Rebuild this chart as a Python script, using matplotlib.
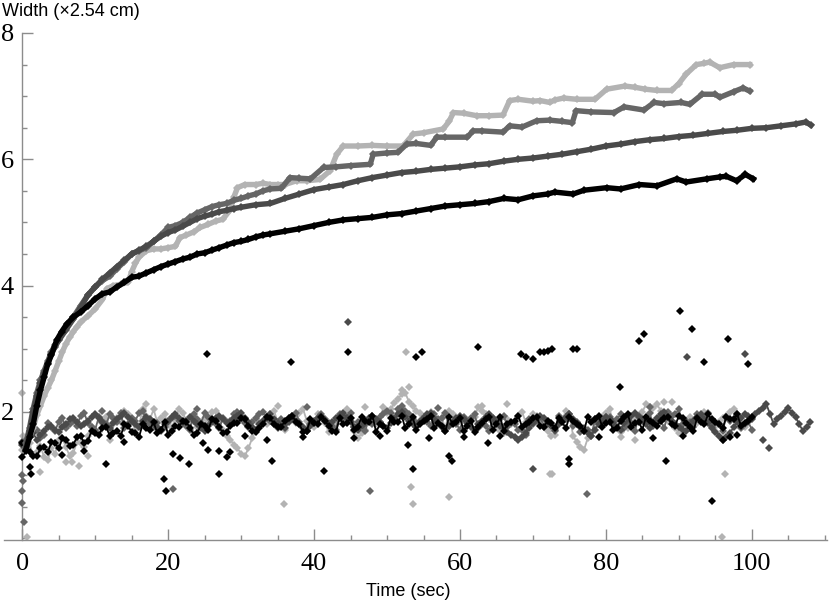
import matplotlib
matplotlib.use("Agg")
import matplotlib.pyplot as plt
from matplotlib.ticker import MultipleLocator, FixedLocator

# ---------------- data ----------------
# upper curves: (time, width)
a_up_t = [0.5,1,1.5,2,2.5,3,3.5,4,4.5,5,5.5,6,6.5,7,7.5,8,9,10,11,11.6,12.5,13.5,14.5,15,15.5,16,17,18,19,20,21,21.6,22.5,23.5,24.4,25.5,26.5,27.5,28.5,29,29.5,30.5,32,33,34,35,36,37.6,39,40.8,42.2,43.1,44.0,46,48,50,52.2,53.6,55,57.7,58.5,59.1,60.5,62.3,64,65.9,66.8,68,70,71,72.3,73,74.2,76,78.5,80.1,82.6,84,85.4,87,89,90,91,92.4,93.5,94.2,95.6,97.5,99.7]
a_up_y = [1.45,1.6,1.75,1.95,2.1,2.25,2.38,2.5,2.65,2.8,2.95,3.08,3.18,3.27,3.35,3.42,3.52,3.63,3.78,3.95,4.0,4.02,4.05,4.22,4.35,4.45,4.55,4.58,4.58,4.6,4.62,4.76,4.8,4.85,4.92,4.97,5.02,5.05,5.2,5.4,5.55,5.6,5.6,5.62,5.6,5.6,5.6,5.66,5.66,5.68,5.82,6.08,6.21,6.21,6.22,6.21,6.21,6.40,6.42,6.48,6.6,6.74,6.73,6.69,6.69,6.70,6.93,6.95,6.92,6.93,6.90,6.94,6.97,6.95,6.95,7.11,7.16,7.14,7.11,7.09,7.09,7.2,7.35,7.50,7.52,7.54,7.45,7.50,7.50]

b_up_t = [0.5,1,1.5,2,2.5,3,3.5,4,4.5,5,6,7,8,9,10,11,12,13,14,15,16,17,18,19,20,21,22,23,24,25,26,27,28,29,30,31,32,33,34,35.5,36.7,38,39.5,41.3,43,45,47.7,48.1,50,51.5,52.7,54,56,56.8,58,61,61.8,63,65.9,66.8,68.5,70.5,72.3,74,75.4,75.9,78,81.1,82.5,85.2,86.6,88,90.3,91.5,93.2,95,95.6,97.5,98.8,99.7]
b_up_y = [1.5,1.75,2.05,2.3,2.5,2.65,2.8,2.95,3.06,3.15,3.32,3.5,3.68,3.85,3.98,4.08,4.15,4.27,4.38,4.5,4.55,4.6,4.7,4.8,4.92,4.95,5.0,5.08,5.15,5.2,5.25,5.28,5.3,5.35,5.38,5.42,5.45,5.5,5.53,5.54,5.71,5.70,5.69,5.87,5.88,5.9,5.92,6.08,6.10,6.11,6.24,6.25,6.22,6.35,6.35,6.35,6.45,6.45,6.43,6.53,6.51,6.61,6.62,6.60,6.58,6.77,6.75,6.74,6.83,6.78,6.90,6.88,6.90,6.87,7.03,7.03,6.98,7.07,7.13,7.08]

c_up_t = [0.5,1,1.5,2,2.5,3,3.5,4,4.5,5,6,7,8,9,10,11,12,13,14,15,16,17,18,19,20,21,22,23,24,25,26,27,28,29,30,32,34,36,38,40,42,44,46,48,50,52,54,56,58,60,62,64,66,68,70,72,74,76,78,80,82,84,86,88,90,92,94,96,98,100,102,104,106,107.4,108.1]
c_up_y = [1.45,1.7,2.0,2.25,2.45,2.62,2.78,2.92,3.03,3.13,3.3,3.47,3.65,3.85,3.98,4.1,4.2,4.3,4.4,4.5,4.56,4.62,4.7,4.78,4.84,4.88,4.94,5.0,5.06,5.1,5.13,5.17,5.19,5.22,5.24,5.28,5.30,5.38,5.45,5.52,5.56,5.6,5.66,5.71,5.75,5.79,5.81,5.84,5.86,5.88,5.91,5.93,5.97,6.0,6.02,6.05,6.08,6.12,6.16,6.21,6.24,6.28,6.31,6.33,6.36,6.38,6.41,6.44,6.46,6.49,6.50,6.53,6.56,6.59,6.54]

d_up_t = [0.5,1,1.5,2,2.5,3,3.5,4,4.7,5.4,6.1,7,8,9,10,11,12,13,14,15,16,17,18,19,20,21,22,23,24,25,26,27,28,29,30,31,32,33,34,36,38,40,42,44,46,48,50,52,54,56,58,60,62,64,66,68,70,72,73,75.5,77,80.1,82,84.6,87,89.7,91,93.8,95.6,96.5,97.9,99.1,100.2]
d_up_y = [1.4,1.6,1.8,2.1,2.34,2.55,2.76,2.9,3.13,3.27,3.39,3.5,3.58,3.68,3.79,3.87,3.9,3.98,4.05,4.13,4.15,4.2,4.25,4.3,4.34,4.38,4.42,4.45,4.5,4.52,4.56,4.6,4.64,4.68,4.70,4.73,4.77,4.8,4.82,4.86,4.90,4.95,5.0,5.04,5.06,5.08,5.12,5.14,5.18,5.22,5.26,5.28,5.30,5.33,5.38,5.36,5.42,5.45,5.48,5.45,5.51,5.55,5.53,5.60,5.58,5.69,5.64,5.69,5.72,5.73,5.66,5.76,5.69]

# lower (noisy) bands: readings at whole seconds and at half seconds
low_t = [float(s) for s in range(0, 101)]
low_t_c = [float(s) for s in range(0, 109)]
half_t = [s + 0.5 for s in range(0, 100)]
half_t_c = [s + 0.5 for s in range(0, 108)]

a_low = [1.40,1.50,1.36,1.28,1.42,1.55,1.44,1.35,1.50,1.62,1.70,
         1.82,1.74,1.90,2.02,1.88,1.78,1.94,2.04,1.90,1.80,
         1.92,1.98,1.84,1.76,1.90,2.00,1.86,1.62,1.48,1.34,
         1.42,1.70,1.86,1.96,1.84,1.72,1.88,1.98,1.86,1.76,
         1.90,1.68,1.80,1.96,1.86,1.58,1.72,1.92,1.84,1.98,
         2.14,2.28,2.16,2.02,1.90,2.00,1.84,1.74,1.96,1.88,
         1.78,1.92,2.02,1.88,1.76,1.66,1.80,1.94,1.84,1.96,
         1.86,1.70,1.64,1.86,1.96,1.52,1.40,1.66,1.88,1.98,
         1.84,1.68,1.74,1.90,2.00,2.08,2.12,1.96,1.80,1.66,
         1.86,1.76,1.94,1.84,1.70,1.90,2.00,1.88,1.76,1.90]
a_half = [1.60,1.30,1.46,1.24,1.34,1.58,1.30,1.52,1.44,1.76,
          1.68,1.92,1.80,1.84,1.96,1.72,2.04,1.88,1.84,1.96,
          1.74,2.04,1.86,1.92,1.82,1.84,2.02,1.72,1.56,1.42,
          1.30,1.58,1.84,1.80,2.02,1.78,1.90,1.82,2.04,1.80,
          1.96,1.82,1.72,1.90,2.04,1.70,1.66,1.88,1.80,2.08,
          2.04,2.20,2.30,2.10,1.98,1.94,1.78,1.90,2.02,1.82,
          1.90,1.84,2.08,1.96,1.84,1.70,1.88,1.84,2.00,1.86,
          1.94,1.80,1.62,1.80,2.02,1.62,1.44,1.58,1.80,1.92,
          2.04,1.76,1.80,1.84,1.94,2.12,2.06,2.02,1.86,1.74,
          1.80,1.92,1.82,2.00,1.78,1.84,1.94,2.04,1.82,1.86]

b_low = [1.52,1.60,1.72,1.64,1.76,1.84,1.74,1.86,1.94,1.82,1.72,
         1.86,1.96,1.84,1.74,1.90,1.98,1.86,1.76,1.70,1.84,
         1.94,1.82,1.72,1.88,1.98,1.86,1.74,1.84,1.96,1.88,
         1.76,1.90,2.00,1.86,1.74,1.80,1.94,1.84,1.70,1.86,
         1.96,1.82,1.72,1.88,1.98,1.84,1.70,1.80,1.92,2.02,
         1.90,2.10,1.96,1.82,1.92,1.78,1.88,1.98,1.84,1.72,
         1.86,1.96,1.80,1.70,1.84,1.94,1.82,1.72,1.64,1.80,
         1.92,1.82,1.70,1.86,1.96,1.84,1.74,1.62,1.80,1.92,
         1.84,1.96,1.80,1.70,1.88,1.98,1.84,1.74,1.94,2.04,
         1.86,1.76,1.90,1.98,1.82,1.70,1.86,1.96,1.80,1.72]
b_half = [1.56,1.70,1.58,1.82,1.70,1.90,1.80,1.78,1.98,1.76,
          1.92,1.80,1.90,1.98,1.80,1.86,2.02,1.80,1.82,1.76,
          1.90,1.86,1.78,1.96,1.82,1.92,1.80,1.90,1.86,2.00,
          1.82,1.84,1.96,1.92,1.80,1.88,1.86,1.98,1.76,1.80,
          1.90,1.88,1.78,1.96,1.92,1.76,1.84,1.88,1.86,1.96,
          1.98,2.04,2.02,1.88,1.86,1.84,1.96,1.90,1.78,1.80,
          1.92,1.90,1.74,1.78,1.90,1.88,1.76,1.80,1.72,1.88,
          1.86,1.76,1.80,1.94,1.88,1.78,1.68,1.72,1.88,1.86,
          1.92,1.88,1.74,1.82,1.94,1.90,1.78,1.86,2.00,1.96,
          1.80,1.84,1.96,1.90,1.76,1.80,1.92,1.88,1.74,1.84]

c_low = [1.48,1.62,1.56,1.70,1.78,1.68,1.80,1.90,1.78,1.86,1.96,
         1.84,1.74,1.88,1.98,1.86,1.76,1.92,1.82,1.72,1.86,
         1.96,1.84,1.92,1.80,1.70,1.84,1.94,1.82,1.90,1.98,
         1.84,1.72,1.86,1.96,1.82,1.74,1.90,1.80,1.70,1.84,
         1.94,1.80,1.90,1.98,1.84,1.72,1.82,1.94,1.84,1.74,
         1.88,2.00,1.86,1.76,1.90,1.98,1.82,1.70,1.84,1.94,
         1.82,1.72,1.86,1.96,1.84,1.74,1.64,1.56,1.66,1.82,
         1.94,1.84,1.72,1.86,1.96,1.82,1.70,1.62,1.80,1.92,
         1.82,1.72,1.88,1.98,1.86,1.74,1.90,2.00,1.86,1.76,
         1.70,1.86,1.96,1.82,1.68,1.56,1.66,1.84,1.96,1.88,
         2.02,2.12,1.80,1.94,2.06,1.92,1.70,1.84]
c_half = [1.54,1.66,1.64,1.76,1.72,1.76,1.88,1.84,1.80,1.92,
          1.90,1.78,1.82,1.94,1.92,1.80,1.86,1.88,1.76,1.80,
          1.92,1.90,1.86,1.86,1.74,1.78,1.90,1.88,1.84,1.94,
          1.90,1.76,1.80,1.92,1.88,1.78,1.84,1.86,1.74,1.78,
          1.90,1.86,1.84,1.94,1.90,1.76,1.78,1.90,1.88,1.78,
          1.82,1.96,1.92,1.80,1.84,1.96,1.88,1.76,1.78,1.90,
          1.88,1.76,1.80,1.92,1.90,1.78,1.68,1.60,1.60,1.74,
          1.88,1.90,1.78,1.80,1.92,1.88,1.76,1.66,1.72,1.86,
          1.88,1.76,1.82,1.94,1.92,1.80,1.84,1.96,1.92,1.80,
          1.72,1.78,1.92,1.88,1.74,1.62,1.60,1.76,1.90,1.94,
          1.96,2.06,1.96,1.88,2.00,1.98,1.80,1.76]

d_low = [1.28,1.36,1.30,1.44,1.52,1.42,1.56,1.48,1.62,1.54,1.66,
         1.74,1.62,1.70,1.80,1.68,1.60,1.74,1.84,1.72,1.64,
         1.78,1.86,1.74,1.66,1.78,1.88,1.76,1.68,1.82,1.90,
         1.78,1.68,1.80,1.90,1.76,1.86,1.94,1.80,1.70,1.82,
         1.92,1.78,1.68,1.80,1.90,1.76,1.86,1.94,1.80,1.70,
         1.84,1.94,1.80,1.72,1.86,1.94,1.82,1.70,1.80,1.90,
         1.78,1.68,1.82,1.92,1.80,1.70,1.84,1.94,1.80,1.90,
         1.78,1.86,1.74,1.84,1.92,1.80,1.70,1.84,1.94,1.82,
         1.72,1.86,1.96,1.82,1.72,1.86,1.78,1.90,1.80,1.94,
         1.82,1.70,1.84,1.96,1.84,1.74,1.88,1.96,1.82,1.92]
d_half = [1.38,1.30,1.42,1.36,1.50,1.58,1.46,1.60,1.50,1.70,
          1.64,1.76,1.66,1.62,1.78,1.66,1.80,1.72,1.66,1.84,
          1.70,1.76,1.84,1.64,1.80,1.72,1.86,1.66,1.78,1.82,
          1.88,1.70,1.74,1.92,1.80,1.76,1.90,1.84,1.68,1.88,
          1.80,1.86,1.70,1.90,1.82,1.72,1.92,1.84,1.68,1.78,
          1.90,1.84,1.74,1.92,1.80,1.88,1.74,1.78,1.92,1.84,
          1.70,1.86,1.76,1.88,1.72,1.92,1.80,1.86,1.76,1.84,
          1.92,1.76,1.82,1.90,1.74,1.86,1.78,1.92,1.88,1.76,
          1.84,1.74,1.92,1.76,1.84,1.92,1.82,1.86,1.92,1.78,
          1.90,1.76,1.90,1.80,1.88,1.80,1.92,1.88,1.78,1.86]

# scattered outliers
a_out_t = [0.0, 0.1, 0.6, 2.5, 6.0, 6.8, 7.8, 9.0, 12.0, 17.0, 35.0, 35.9, 47.0, 52.0, 52.6, 53.0, 53.3, 53.6, 58.5, 63.0, 66.5, 72.3, 72.6, 82.0, 84.0, 88.0, 89.0, 95.9, 96.3]
a_out_y = [2.30, 1.62, 0.01, 1.05, 1.20, 1.20, 1.14, 1.30, 1.55, 2.12, 2.10, 0.54, 2.08, 2.35, 2.95, 2.40, 0.81, 0.54, 0.65, 2.10, 2.12, 1.02, 1.02, 1.60, 1.55, 2.15, 2.16, 0.01, 1.02]
b_out_t = [0.0, 0.1, 0.0, 0.0, 0.2, 11.0, 20.7, 24.0, 39.0, 47.7, 57.0, 77.4, 86.0]
b_out_y = [1.00, 0.90, 0.75, 0.55, 0.26, 2.02, 0.77, 2.05, 2.08, 0.74, 2.06, 0.70, 2.08]
c_out_t = [44.6, 70.0, 91.1, 99.1, 101.5, 102.3]
c_out_y = [3.43, 1.10, 2.87, 2.91, 1.55, 1.42]
d_out_t = [0.0, 1.1, 1.2, 5.5, 8.5, 11.5, 14.0, 19.4, 19.7, 20.7, 21.6, 22.8, 24.8, 25.3, 25.5, 27.0, 27.0, 28.0, 28.5, 30.5, 33.5, 34.3, 36.8, 38.5, 41.4, 44.6, 45.5, 49.0, 52.9, 53.6, 54.0, 54.8, 55.8, 58.5, 58.9, 60.5, 62.4, 63.8, 65.5, 68.3, 69.0, 70.0, 70.9, 71.5, 72.0, 72.6, 75.0, 75.0, 75.5, 76.0, 79.0, 81.9, 84.5, 85.2, 86.5, 88.3, 90.1, 90.5, 91.8, 93.5, 94.6, 96.0, 96.7, 97.0, 98.0, 99.5]
d_out_y = [1.50, 1.13, 1.02, 1.32, 1.38, 1.18, 1.52, 0.93, 0.74, 1.34, 1.27, 1.18, 1.51, 2.91, 1.39, 1.38, 1.02, 1.29, 1.36, 1.62, 1.55, 1.22, 2.79, 1.60, 1.06, 2.95, 1.58, 1.62, 1.47, 1.10, 2.87, 2.95, 1.58, 1.30, 1.22, 1.60, 3.03, 1.50, 1.62, 2.91, 2.87, 2.83, 2.95, 2.95, 2.96, 3.00, 1.26, 1.18, 3.00, 3.00, 1.60, 2.39, 3.12, 3.23, 1.58, 1.22, 3.59, 1.62, 3.31, 2.79, 0.58, 1.55, 3.15, 1.60, 1.64, 2.75]

x_major = [0, 20, 40, 60, 80, 100]
y_major = [2, 4, 6, 8]

colors = {"a": "#b3b3b3", "b": "#666666", "c": "#4a4a4a", "d": "#000000"}


def merge(t1, y1, t2, y2):
    pts = sorted(zip(list(t1) + list(t2), list(y1) + list(y2)))
    return [p[0] for p in pts], [p[1] for p in pts]


# ---------------- figure ----------------
fig = plt.figure(figsize=(8.3, 6.06), dpi=100)
ax = fig.add_axes([4 / 830, 66 / 606, 823 / 830, 507 / 606])
ax.set_xlim(-2.5, 110.3)
ax.set_ylim(-0.03, 8.0)

series = [
    ("a", a_up_t, a_up_y, low_t, a_low, half_t, a_half, a_out_t, a_out_y),
    ("b", b_up_t, b_up_y, low_t, b_low, half_t, b_half, b_out_t, b_out_y),
    ("c", c_up_t, c_up_y, low_t_c, c_low, half_t_c, c_half, c_out_t, c_out_y),
    ("d", d_up_t, d_up_y, low_t, d_low, half_t, d_half, d_out_t, d_out_y),
]
for i, (k, ut, uy, lt, ly, ht, hy, ot, oy) in enumerate(series):
    col = colors[k]
    mt, my = merge(lt, ly, ht, hy)
    ax.plot(mt, my, color=col, lw=1.3, marker="D", ms=4.3, mew=0,
            zorder=2 + i, clip_on=False)
    ax.plot(ot, oy, ls="none", color=col, marker="D", ms=3.9, mew=0,
            zorder=2 + i, clip_on=False)
    ax.plot(ut, uy, color=col, lw=3.9, marker="D", ms=3.8, mew=0,
            solid_joinstyle="round", zorder=6 + i, clip_on=False)

# spines
for s in ("top", "right"):
    ax.spines[s].set_visible(False)
ax.spines["left"].set_position(("data", 0))
for s in ("left", "bottom"):
    ax.spines[s].set_color("#8c8c8c")
    ax.spines[s].set_linewidth(1.0)

ax.xaxis.set_major_locator(FixedLocator(x_major))
ax.xaxis.set_minor_locator(MultipleLocator(5))
ax.yaxis.set_major_locator(FixedLocator(y_major))
ax.yaxis.set_minor_locator(MultipleLocator(0.5))
ax.tick_params(which="both", direction="in", color="#8c8c8c", width=1.0)
ax.tick_params(which="major", length=8)
ax.tick_params(which="minor", length=3.5)
ax.tick_params(axis="x", which="major", pad=9)
ax.tick_params(axis="y", which="major", pad=6)

serif = ["Liberation Serif", "DejaVu Serif"]
for lab in ax.get_xticklabels() + ax.get_yticklabels():
    lab.set_fontfamily(serif)
    lab.set_fontsize(19)

sans = ["Liberation Sans", "DejaVu Sans"]
fig.text(2 / 830, 1 - 11 / 606, "Width (\u00d72.54 cm)", ha="left", va="center",
         fontsize=13, family=sans)
fig.text(408 / 830, 1 - 592 / 606, "Time (sec)", ha="center", va="center",
         fontsize=13, family=sans)

fig.savefig("out.png", dpi=100)
